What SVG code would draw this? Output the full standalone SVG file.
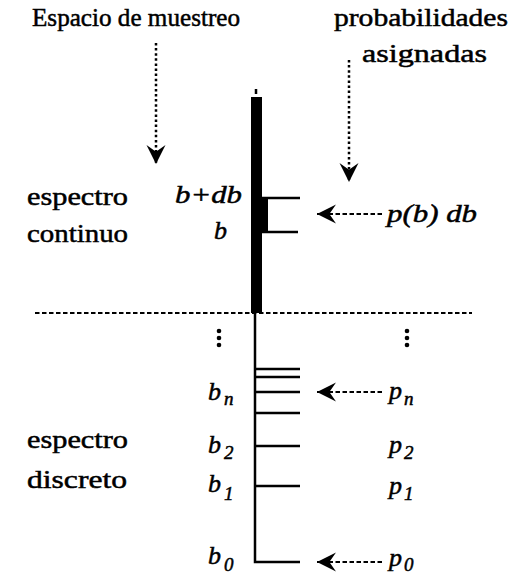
<svg xmlns="http://www.w3.org/2000/svg" width="515" height="576" viewBox="0 0 515 576">
<style>
text{font-family:"Liberation Serif","Times New Roman",serif;fill:#000;stroke:#000;stroke-width:0.5;font-size:26px;}
.it{font-style:italic;font-size:26px;}
.sub{font-size:19px;font-style:italic;}
.dot{stroke:#000;stroke-width:2.5;fill:none;stroke-dasharray:2.5 2.6;}
.dash{stroke:#000;stroke-width:2;fill:none;stroke-dasharray:4.5 2.5;}
.tick{stroke:#000;stroke-width:2.5;}
</style>
<defs>
<marker id="ah" viewBox="0 0 20 20" refX="20" refY="10" markerWidth="19" markerHeight="21" markerUnits="userSpaceOnUse" orient="auto">
<path d="M0,0 L20,10 L0,20 L7,10 Z" fill="#000"/>
</marker>
</defs>
<rect width="515" height="576" fill="#fff"/>

<g id="labels">
<text x="32" y="26" textLength="208" lengthAdjust="spacingAndGlyphs">Espacio de muestreo</text>
<text x="334" y="26" textLength="174" lengthAdjust="spacingAndGlyphs">probabilidades</text>
<text x="362" y="62" textLength="125" lengthAdjust="spacingAndGlyphs">asignadas</text>
</g>

<g id="continuo">
<text x="27" y="205" textLength="101" lengthAdjust="spacingAndGlyphs">espectro</text>
<text x="27" y="242" textLength="101" lengthAdjust="spacingAndGlyphs">continuo</text>
<text class="it" x="175" y="203" textLength="67" lengthAdjust="spacingAndGlyphs">b+db</text>
<text class="it" x="214" y="239">b</text>
<line x1="256" y1="89" x2="256" y2="94" stroke="#000" stroke-width="2.5"/>
<rect x="251" y="97" width="11" height="216" fill="#000"/>
<rect x="261" y="197" width="7" height="36" fill="#000"/>
<line class="tick" x1="262" y1="198" x2="300" y2="198"/>
<line class="tick" x1="262" y1="232" x2="298" y2="232"/>
<text class="it" x="387" y="222" textLength="90" lengthAdjust="spacingAndGlyphs">p(b) db</text>
</g>

<g id="discreto">
<text x="27" y="448" textLength="101" lengthAdjust="spacingAndGlyphs">espectro</text>
<text x="27" y="488" textLength="100" lengthAdjust="spacingAndGlyphs">discreto</text>
<path d="M255,314 V562 H300" stroke="#000" stroke-width="2.5" fill="none"/>
<line class="tick" x1="255" y1="369" x2="300" y2="369"/>
<line class="tick" x1="255" y1="377" x2="300" y2="377"/>
<line class="tick" x1="255" y1="392" x2="300" y2="392"/>
<line class="tick" x1="255" y1="413" x2="300" y2="413"/>
<line class="tick" x1="255" y1="446" x2="300" y2="446"/>
<line class="tick" x1="255" y1="486" x2="300" y2="486"/>
<g fill="#000">
<circle cx="219" cy="331" r="2.3"/><circle cx="219" cy="338" r="2.3"/><circle cx="219" cy="345" r="2.3"/>
<circle cx="407" cy="331" r="2.3"/><circle cx="407" cy="338" r="2.3"/><circle cx="407" cy="345" r="2.3"/>
</g>
<text class="it" x="208" y="400">b</text><text class="sub" x="224" y="405">n</text>
<text class="it" x="208" y="453">b</text><text class="sub" x="224" y="459">2</text>
<text class="it" x="208" y="492">b</text><text class="sub" x="224" y="500">1</text>
<text class="it" x="208" y="564">b</text><text class="sub" x="224" y="571">0</text>
<text class="it" x="389" y="399">p</text><text class="sub" x="404" y="405">n</text>
<text class="it" x="389" y="453">p</text><text class="sub" x="404" y="459">2</text>
<text class="it" x="389" y="494">p</text><text class="sub" x="404" y="500">1</text>
<text class="it" x="389" y="566">p</text><text class="sub" x="404" y="571">0</text>
</g>

<g id="connectors">
<line class="dot" x1="156" y1="43" x2="156" y2="164" marker-end="url(#ah)"/>
<line class="dot" x1="349" y1="60" x2="349" y2="182" marker-end="url(#ah)"/>
<line class="dash" x1="382" y1="214" x2="317" y2="214" marker-end="url(#ah)"/>
<line class="dash" x1="382" y1="392" x2="317" y2="392" marker-end="url(#ah)"/>
<line class="dash" x1="382" y1="562" x2="317" y2="562" marker-end="url(#ah)"/>
<line class="dash" x1="35" y1="313" x2="472" y2="313"/>
</g>
</svg>
